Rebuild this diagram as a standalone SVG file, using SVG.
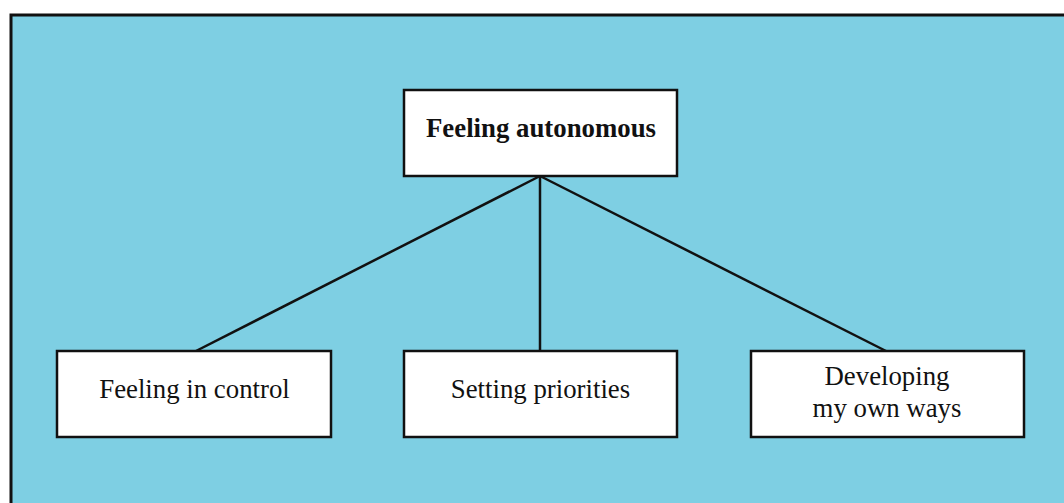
<svg xmlns="http://www.w3.org/2000/svg" width="1064" height="503" viewBox="0 0 1064 503">
<style>
.node rect{fill:#fff;stroke:#111;stroke-width:2.5}
.node text{font-family:"Liberation Serif","Times New Roman",serif;font-size:26.8px;fill:#111;text-anchor:middle}
.conn line{stroke:#111;stroke-width:2.5}
</style>
<rect x="11" y="15" width="1060" height="500" fill="#7ecfe3" stroke="#111" stroke-width="3"/>
<g class="conn">
<line x1="540" y1="176" x2="196" y2="351"/>
<line x1="540" y1="176" x2="540" y2="351"/>
<line x1="540" y1="176" x2="886" y2="351"/>
</g>
<g id="top" class="node"><rect x="404" y="90" width="273" height="86"/><text x="541" y="137" font-weight="bold" font-size="26.5">Feeling autonomous</text></g>
<g id="control" class="node"><rect x="57" y="351" width="274" height="86"/><text x="194.5" y="398">Feeling in control</text></g>
<g id="priorities" class="node"><rect x="404" y="351" width="273" height="86"/><text x="540.5" y="398">Setting priorities</text></g>
<g id="ways" class="node"><rect x="751" y="351" width="273" height="86"/><text x="887" y="385">Developing</text><text x="887" y="417">my own ways</text></g>
</svg>
